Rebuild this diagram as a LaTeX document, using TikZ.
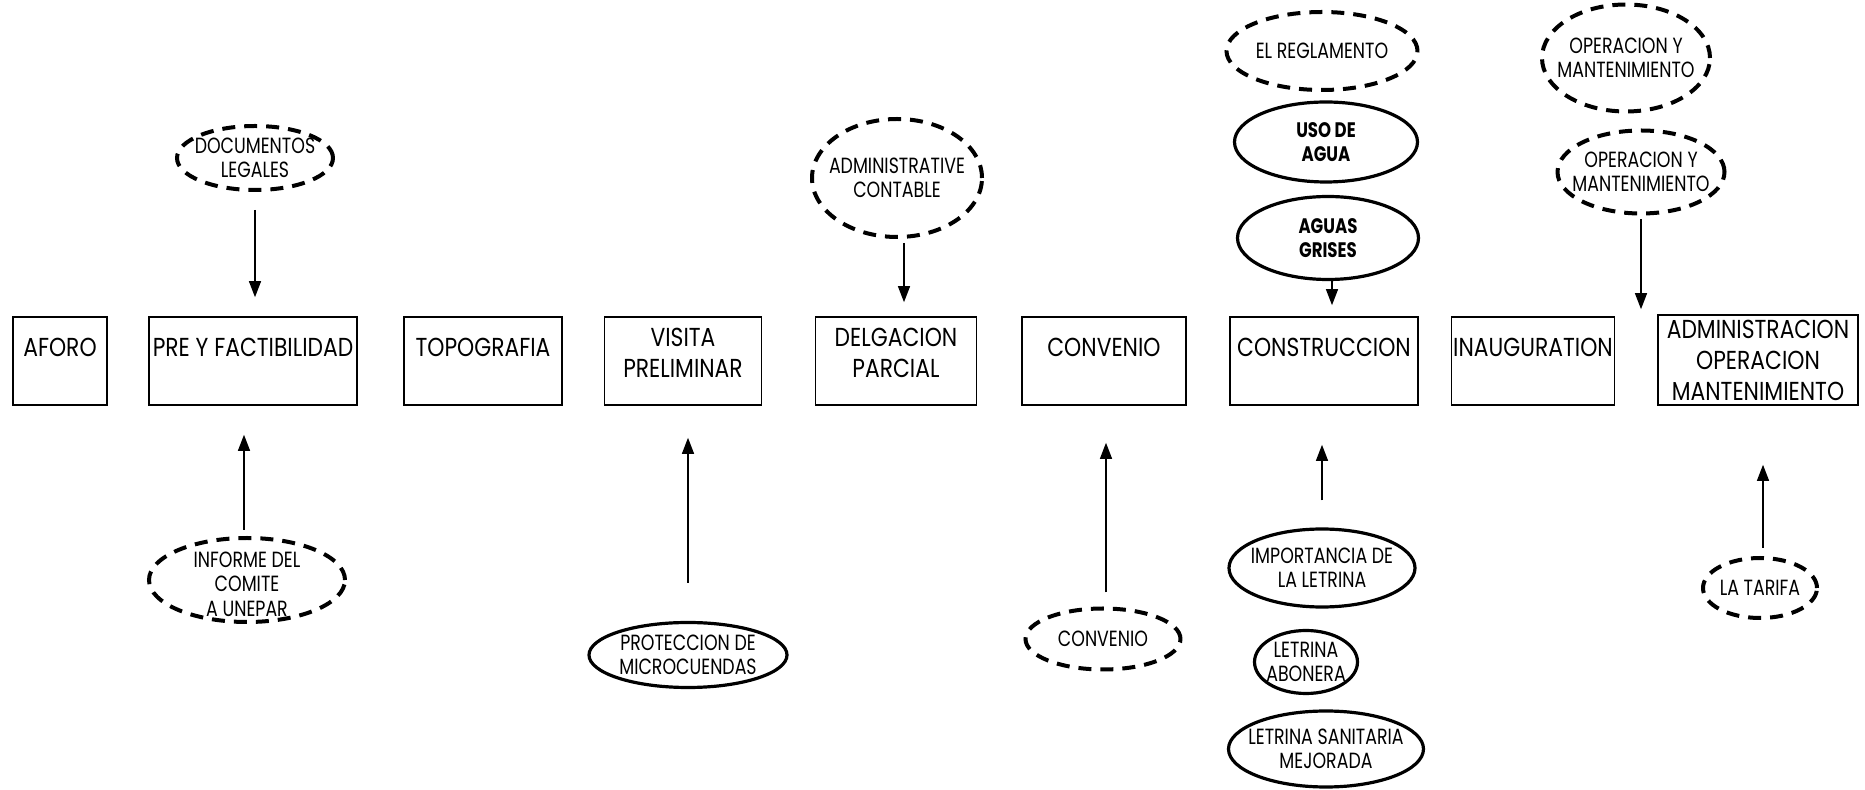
\documentclass[tikz,border=0pt]{standalone}
\usepackage{fontspec}
\setmainfont{Poppins}[FakeStretch=0.84]
\newfontfamily\ellfont{Poppins}[FakeStretch=0.79]
\usetikzlibrary{shapes.geometric,arrows.meta}
\tikzset{
  caja/.style={draw, line width=0.8pt, minimum height=44pt, inner sep=0pt, align=center, font=\fontsize{13}{15.5}\selectfont},
  txt/.style={align=center, font=\ellfont\fontsize{11}{12.2}\selectfont},
  punteada/.style 2 args={ellipse, draw, inner sep=0pt, line width=2pt, dash pattern=on 6.5pt off 4.5pt, minimum width=#1, minimum height=#2},
  solida/.style 2 args={ellipse, draw, inner sep=0pt, line width=1.6pt, minimum width=#1, minimum height=#2},
  flecha/.style={-{Triangle[width=6pt,length=8pt]}, line width=0.6pt},
}
\begin{document}
\begin{tikzpicture}[x=0.5pt,y=-0.5pt]
\useasboundingbox (0,0) rectangle (1865,790);
\node[caja, minimum width=47pt] (aforo) at (60,361) {AFORO\\[-6pt] \strut};
\node[caja, minimum width=104pt] (pre) at (253,361) {PRE Y FACTIBILIDAD\\[-6pt] \strut};
\node[caja, minimum width=79pt] (topo) at (483,361) {TOPOGRAFIA\\[-6pt] \strut};
\node[caja, minimum width=78.5pt] (visita) at (683,361) {VISITA\\PRELIMINAR\\[-11.5pt] \strut};
\node[caja, minimum width=80.5pt] (delg) at (896,361) {DELGACION\\PARCIAL\\[-11.5pt] \strut};
\node[caja, minimum width=82pt] (conv) at (1104,361) {CONVENIO\\[-6pt] \strut};
\node[caja, minimum width=94pt] (constr) at (1324,361) {CONSTRUCCION\\[-6pt] \strut};
\node[caja, minimum width=81.5pt] (inaug) at (1533,361) {INAUGURATION\\[-6pt] \strut};
\node[caja, minimum width=100pt, minimum height=45pt] (admin) at (1758,360) {ADMINISTRACION\\OPERACION\\MANTENIMIENTO};

\node[punteada={78pt}{32pt}, label={[txt]center:DOCUMENTOS\\LEGALES}] (doc) at (255,158) {};
\node[punteada={85pt}{59pt}, label={[txt]center:ADMINISTRATIVE\\CONTABLE}] (admc) at (897,178) {};
\node[punteada={95.5pt}{39pt}, label={[txt]center:EL REGLAMENTO}] (regl) at (1322,51) {};
\node[solida={91.5pt}{40pt}, label={[txt, font=\ellfont\bfseries\fontsize{10.5}{12.2}\selectfont]center:USO DE\\AGUA}] (uso) at (1326,142) {};
\node[solida={90.5pt}{41.5pt}, label={[txt, font=\ellfont\bfseries\fontsize{10.5}{12.2}\selectfont]center:AGUAS\\GRISES}] (grises) at (1328,238) {};
\node[punteada={84pt}{53.5pt}, label={[txt]center:OPERACION Y\\MANTENIMIENTO}] (oper1) at (1626,58) {};
\node[punteada={83.5pt}{41.5pt}, label={[txt]center:OPERACION Y\\MANTENIMIENTO}] (oper2) at (1641,172) {};

\node[punteada={98pt}{42pt}, label={[txt, yshift=-2pt]center:INFORME DEL\\COMITE\\A UNEPAR}] (informe) at (247,580) {};
\node[solida={99pt}{32.5pt}, label={[txt]center:PROTECCION DE\\MICROCUENDAS}] (prot) at (688,655) {};
\node[punteada={77.5pt}{30.5pt}, label={[txt]center:CONVENIO}] (convE) at (1103,639) {};
\node[solida={93pt}{39pt}, label={[txt]center:IMPORTANCIA DE\\LA LETRINA}] (impo) at (1322,568) {};
\node[solida={51.5pt}{31.5pt}, label={[txt]center:LETRINA\\ABONERA}] (abon) at (1306,662) {};
\node[solida={97.5pt}{38pt}, label={[txt]center:LETRINA SANITARIA\\MEJORADA}] (sanit) at (1326,749) {};
\node[punteada={57pt}{30pt}, label={[txt]center:LA TARIFA}] (tarifa) at (1760,588) {};

\draw[flecha, shorten <=9pt, shorten >=9.5pt] (doc.south) -- (doc.south |- pre.north);
\draw[flecha, shorten <=2pt, shorten >=7pt] ([xshift=3.5pt]admc.south) -- ([xshift=3.5pt]admc.south |- delg.north);
\draw[flecha, shorten >=5.5pt] ([xshift=2pt]grises.south) -- ([xshift=2pt]grises.south |- constr.north);
\draw[flecha, shorten <=2pt, shorten >=3.5pt] (oper2.south) -- (oper2.south |- inaug.north);
\draw[flecha, shorten <=3pt, shorten >=14.5pt] ([xshift=-1.5pt]informe.north) -- ([xshift=-1.5pt]informe.north |- pre.south);
\draw[flecha, shorten <=19pt, shorten >=16pt] (prot.north) -- (prot.north |- visita.south);
\draw[flecha, shorten <=7pt, shorten >=18.5pt] ([xshift=1.5pt]convE.north) -- ([xshift=1.5pt]convE.north |- conv.south);
\draw[flecha, shorten <=13.5pt, shorten >=19.5pt] (impo.north) -- (impo.north |- constr.south);
\draw[flecha, shorten <=4pt, shorten >=29.5pt] ([xshift=1.5pt]tarifa.north) -- ([xshift=1.5pt]tarifa.north |- admin.south);
\end{tikzpicture}
\end{document}
